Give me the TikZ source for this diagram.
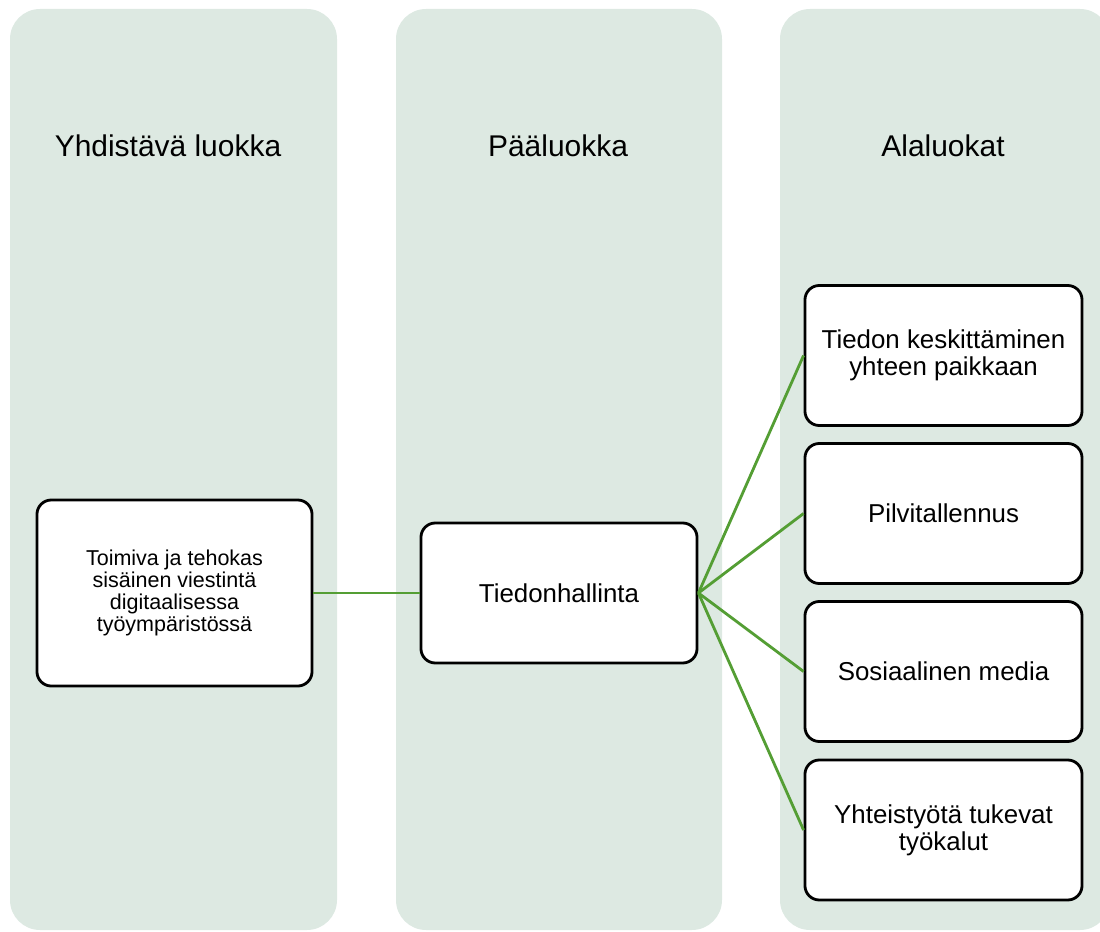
\documentclass[tikz,border=0pt]{standalone}
\usepackage{fontspec}
\setmainfont{Liberation Sans}
\usepackage{xcolor}
\definecolor{colfill}{RGB}{221,233,226}
\definecolor{linkgreen}{RGB}{84,158,52}

\begin{document}
\begin{tikzpicture}[x=0.025cm,y=-0.025cm,
  column/.style={fill=colfill,rounded corners=0.75cm},
  head/.style={font=\fontsize{21.3}{24}\selectfont},
  box/.style={draw=black,line width=2pt,fill=white,rounded corners=0.36cm,align=center,inner sep=2pt},
  subbox/.style={box,minimum width=6.925cm,minimum height=3.5cm,font=\fontsize{18.4}{19}\selectfont},
  link/.style={linkgreen,line width=2pt}]
  \useasboundingbox (0,0) rectangle (1100,932);
  \clip (0,0) rectangle (1100,932);
  % columns
  \fill[column] (10,9) rectangle (337,930);
  \fill[column] (396,9) rectangle (722,930);
  \fill[column] (780,9) rectangle (1110,930);
  \node[head] (hjoin) at (168,146) {Yhdistävä luokka};
  \node[head] (hmain) at (558,146) {Pääluokka};
  \node[head] (hsub) at (943,146) {Alaluokat};
  % boxes
  \node[box,minimum width=6.875cm,minimum height=4.65cm,font=\fontsize{15.3}{15.8}\selectfont] (join) at (174.5,593)
    {Toimiva ja tehokas\\sisäinen viestintä\\digitaalisessa\\työympäristössä};
  \node[box,minimum width=6.9cm,minimum height=3.5cm,font=\fontsize{18.4}{19}\selectfont] (main) at (559,593) {Tiedonhallinta};
  \node[subbox] (sub1) at (943.5,355.5) {Tiedon keskittäminen\\yhteen paikkaan};
  \node[subbox] (sub2) at (943.5,513.5) {Pilvitallennus};
  \node[subbox] (sub3) at (943.5,671.5) {Sosiaalinen media};
  \node[subbox] (sub4) at (943.5,830) {Yhteistyötä tukevat\\työkalut};
  % links
  \draw[link] (join) -- (main);
  \foreach \s in {sub1,sub2,sub3,sub4} \draw[link] (main.east) -- (\s.west);
\end{tikzpicture}
\end{document}
